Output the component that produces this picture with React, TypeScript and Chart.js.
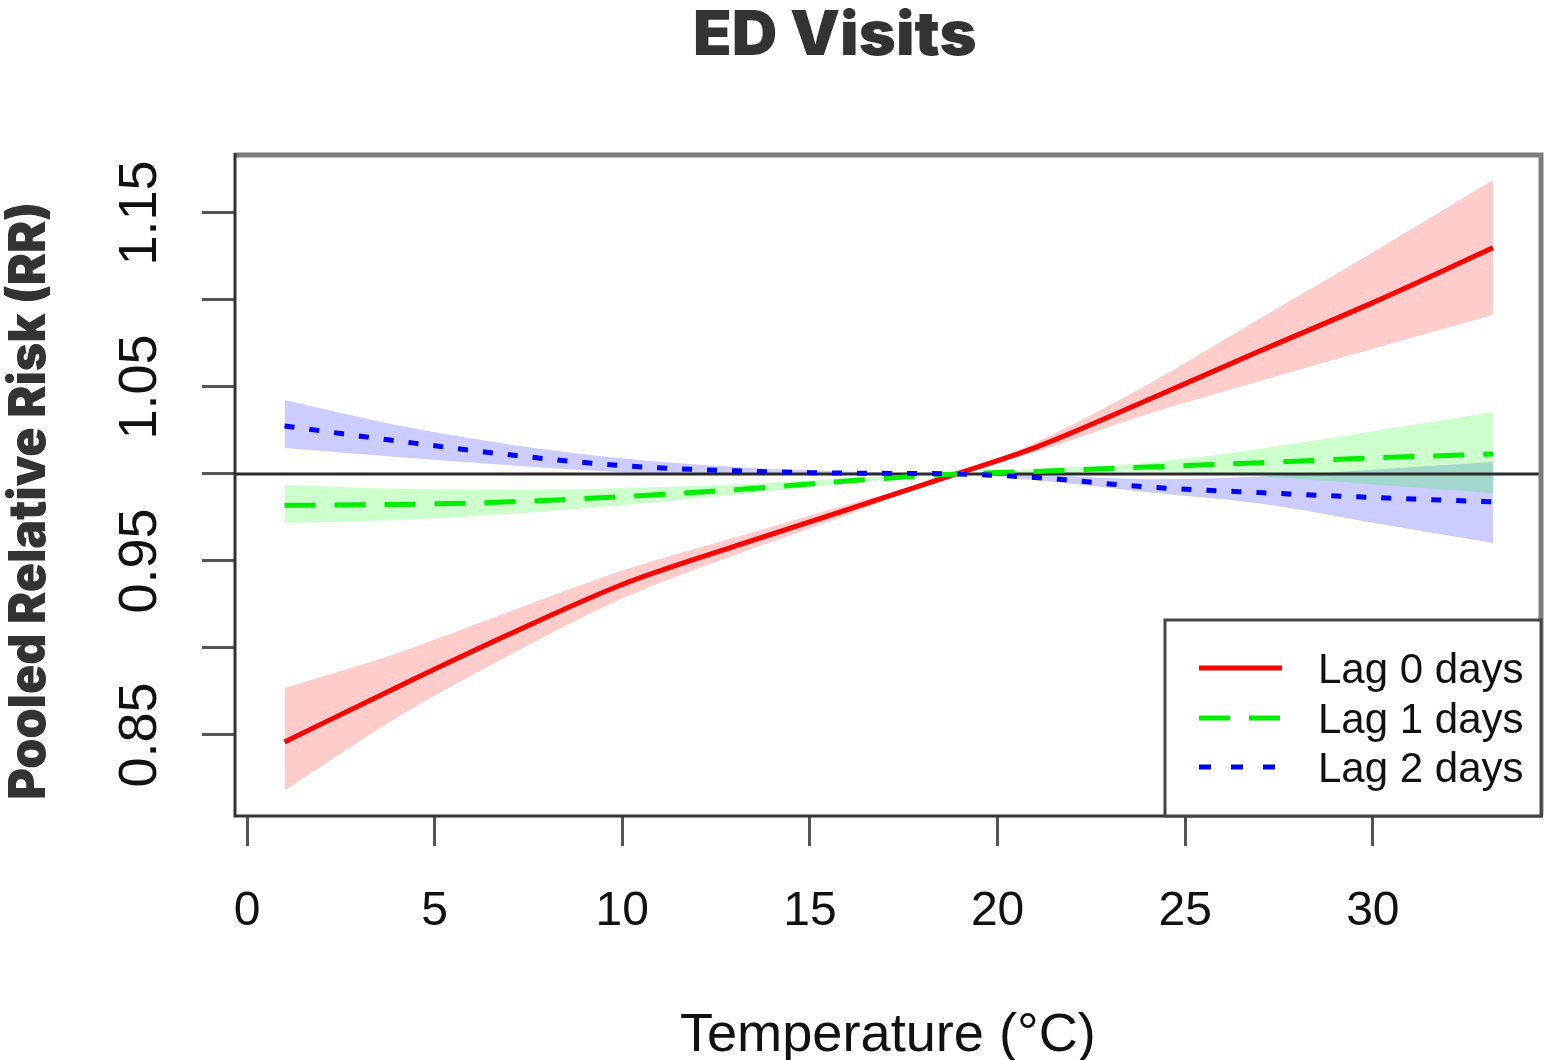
import React, { useEffect, useRef } from 'react';
import { Chart, registerables } from 'chart.js';

Chart.register(...registerables);

// ---- data ----
const temperature = [1, 4, 7, 10, 13, 16, 18.9, 21, 24, 27, 30, 33.2];

const lag0 = [0.846, 0.8775, 0.908, 0.9365, 0.9585, 0.9795, 1.0, 1.0152, 1.0425, 1.0708, 1.0985, 1.13];
const lag0Upper = [0.877, 0.897, 0.921, 0.9445, 0.9635, 0.9825, 1.0, 1.018, 1.0515, 1.0895, 1.1275, 1.169];
const lag0Lower = [0.818, 0.86, 0.896, 0.9285, 0.9535, 0.9765, 1.0, 1.0125, 1.0345, 1.0535, 1.072, 1.0914];

const lag1 = [0.982, 0.9825, 0.984, 0.987, 0.991, 0.996, 1.0, 1.0015, 1.004, 1.0065, 1.0092, 1.0115];
const lag1Upper = [0.9937, 0.9915, 0.991, 0.992, 0.994, 0.9975, 1.0, 1.003, 1.0065, 1.0145, 1.0245, 1.0356];
const lag1Lower = [0.9718, 0.9735, 0.977, 0.982, 0.988, 0.9945, 1.0, 1.0, 1.0015, 0.9985, 0.994, 0.989];

const lag2 = [1.0276, 1.019, 1.011, 1.0048, 1.0018, 1.0005, 1.0, 0.998, 0.9925, 0.9893, 0.9865, 0.984];
const lag2Upper = [1.0425, 1.028, 1.017, 1.009, 1.004, 1.0015, 1.0, 0.9995, 0.997, 0.9985, 1.0025, 1.0069];
const lag2Lower = [1.015, 1.0098, 1.005, 1.001, 0.9995, 0.9995, 1.0, 0.9965, 0.9895, 0.983, 0.972, 0.9603];

const referenceRR = 1;
const seriesLabels = ['Lag 0 days', 'Lag 1 days', 'Lag 2 days'];
const yLabelTicks = [0.85, 0.95, 1.05, 1.15];

const X_MIN = -0.32;
const X_MAX = 34.48;
const Y_MIN = 0.80402;
const Y_MAX = 1.18333;

const toPoints = (ys: number[]) => temperature.map((x, i) => ({ x, y: ys[i] }));

const SANS = "'Liberation Sans', Arial, sans-serif";
const HEAVY = "Inter, Roboto, 'Noto Sans', sans-serif";

function drawFitted(
  ctx: CanvasRenderingContext2D,
  text: string,
  font: string,
  color: string,
  start: number,
  end: number,
  capTop: number,
  baseline: number,
  vertical = false
) {
  ctx.save();
  ctx.font = font;
  ctx.textAlign = 'left';
  ctx.textBaseline = 'alphabetic';
  const m = ctx.measureText(text);
  const inkW = m.actualBoundingBoxLeft + m.actualBoundingBoxRight;
  const cap = ctx.measureText('H').actualBoundingBoxAscent;
  const len = Math.abs(end - start);
  const sx = len / inkW;
  const sy = Math.abs(baseline - capTop) / cap;
  ctx.fillStyle = color;
  if (!vertical) {
    ctx.translate(start, baseline);
  } else {
    ctx.translate(baseline, start);
    ctx.rotate(-Math.PI / 2);
  }
  ctx.scale(sx, sy);
  ctx.fillText(text, m.actualBoundingBoxLeft, 0);
  ctx.restore();
}

const decorPlugin = {
  id: 'rDecor',
  afterDraw(chart: any) {
    const { ctx, chartArea } = chart;
    const { left, right, top, bottom } = chartArea;
    ctx.save();
    // plot box (R style)
    ctx.lineCap = 'butt';
    ctx.strokeStyle = '#7d7d7d';
    ctx.lineWidth = 5;
    ctx.beginPath();
    ctx.moveTo(left, top);
    ctx.lineTo(right, top);
    ctx.lineTo(right, bottom);
    ctx.stroke();
    ctx.strokeStyle = '#333';
    ctx.lineWidth = 3;
    ctx.beginPath();
    ctx.moveTo(left, top - 2);
    ctx.lineTo(left, bottom + 1);
    ctx.lineTo(right + 2, bottom + 1);
    ctx.stroke();

    // legend box
    const lx = 1165, ly = 620, lr = right, lb = bottom + 1;
    ctx.fillStyle = '#fff';
    ctx.fillRect(lx, ly, lr - lx, lb - ly);
    ctx.strokeStyle = '#444';
    ctx.lineWidth = 3;
    ctx.strokeRect(lx, ly, lr - lx, lb - ly);

    const metas = [
      { ds: chart.data.datasets[6], y: 668 },
      { ds: chart.data.datasets[7], y: 718 },
      { ds: chart.data.datasets[8], y: 767 },
    ];
    const legendDash = [[], [31, 19], [12, 20]];
    metas.forEach((m, i) => {
      ctx.strokeStyle = m.ds.borderColor;
      ctx.lineWidth = 5;
      ctx.setLineDash(legendDash[i]);
      ctx.beginPath();
      ctx.moveTo(1199, m.y);
      ctx.lineTo(1282, m.y);
      ctx.stroke();
      ctx.setLineDash([]);
      ctx.fillStyle = '#111';
      ctx.font = `42px ${SANS}`;
      ctx.textAlign = 'left';
      ctx.textBaseline = 'alphabetic';
      ctx.fillText(m.ds.label, 1318, m.y + 15);
    });
    ctx.restore();

    // titles
    drawFitted(ctx, 'ED Visits', `900 64px ${HEAVY}`, '#333', 696, 975, 10, 55);
    drawFitted(ctx, 'Pooled Relative Risk (RR)', `900 52px ${HEAVY}`, '#333', 798, 205, 8, 45, true);
    drawFitted(ctx, 'Temperature (°C)', `50px ${SANS}`, '#111', 681, 1093, 1014, 1051);
  },
};

const bandDs = (data: number[], fill: any, color: string) => ({
  label: '',
  data: toPoints(data),
  borderWidth: 0,
  borderColor: 'rgba(0,0,0,0)',
  backgroundColor: color,
  pointRadius: 0,
  fill,
  order: 10,
  cubicInterpolationMode: 'monotone' as const,
});

const lineDs = (label: string, data: number[], color: string, dash: number[], order: number) => ({
  label,
  data: toPoints(data),
  borderColor: color,
  backgroundColor: color,
  borderWidth: 5,
  borderDash: dash,
  pointRadius: 0,
  fill: false,
  order,
  cubicInterpolationMode: 'monotone' as const,
});

export default function App() {
  const ref = useRef<HTMLCanvasElement>(null);
  useEffect(() => {
    const canvas = ref.current!;
    const chart = new Chart(canvas, {
      type: 'line',
      data: {
        datasets: [
          bandDs(lag0Upper, '+1', 'rgba(255,0,0,0.2)'),
          bandDs(lag0Lower, false, 'rgba(255,0,0,0.2)'),
          bandDs(lag1Upper, '+1', 'rgba(0,255,0,0.2)'),
          bandDs(lag1Lower, false, 'rgba(0,255,0,0.2)'),
          bandDs(lag2Upper, '+1', 'rgba(0,0,255,0.2)'),
          bandDs(lag2Lower, false, 'rgba(0,0,255,0.2)'),
          lineDs(seriesLabels[0], lag0, '#ff0000', [], 4),
          lineDs(seriesLabels[1], lag1, '#00ee00', [31, 19], 3),
          lineDs(seriesLabels[2], lag2, '#0000ff', [10, 15], 2),
          {
            label: 'ref',
            data: [
              { x: X_MIN, y: referenceRR },
              { x: X_MAX, y: referenceRR },
            ],
            borderColor: '#2a2a2a',
            borderWidth: 3,
            pointRadius: 0,
            fill: false,
            order: 6,
          } as any,
        ],
      },
      options: {
        responsive: false,
        animation: false,
        events: [],
        layout: { padding: { top: 155, right: 3, left: 0, bottom: 0 } },
        plugins: {
          legend: { display: false },
          title: { display: false },
          tooltip: { enabled: false },
        },
        scales: {
          x: {
            type: 'linear',
            min: X_MIN,
            max: X_MAX,
            afterFit: (s: any) => {
              s.height = 245;
            },
            border: { display: false },
            grid: {
              display: true,
              drawOnChartArea: false,
              drawTicks: true,
              tickLength: 31,
              lineWidth: 3,
              color: '#555',
            },
            ticks: {
              stepSize: 5,
              includeBounds: false,
              autoSkip: false,
              maxRotation: 0,
              padding: 37,
              color: '#111',
              font: { family: SANS, size: 48 },
            },
          },
          y: {
            type: 'linear',
            min: Y_MIN,
            max: Y_MAX,
            afterFit: (s: any) => {
              s.width = 235;
            },
            border: { display: false },
            grid: {
              display: true,
              drawOnChartArea: false,
              drawTicks: true,
              tickLength: 33,
              lineWidth: 3,
              color: '#555',
            },
            ticks: {
              stepSize: 0.05,
              includeBounds: false,
              autoSkip: false,
              minRotation: 90,
              maxRotation: 90,
              crossAlign: 'center',
              padding: 8,
              color: '#111',
              font: { family: SANS, size: 54 },
              callback: (v: any) => {
                const val = Number(v);
                return yLabelTicks.some((t) => Math.abs(t - val) < 1e-6) ? val.toFixed(2) : '';
              },
            },
          },
        },
      },
      plugins: [decorPlugin],
    } as any);
    return () => chart.destroy();
  }, []);

  return (
    <div style={{ position: 'absolute', left: 0, top: 0, width: 1544, height: 1060, background: '#fff' }}>
      <canvas ref={ref} width={1544} height={1060} style={{ display: 'block', width: 1544, height: 1060 }} />
    </div>
  );
}
